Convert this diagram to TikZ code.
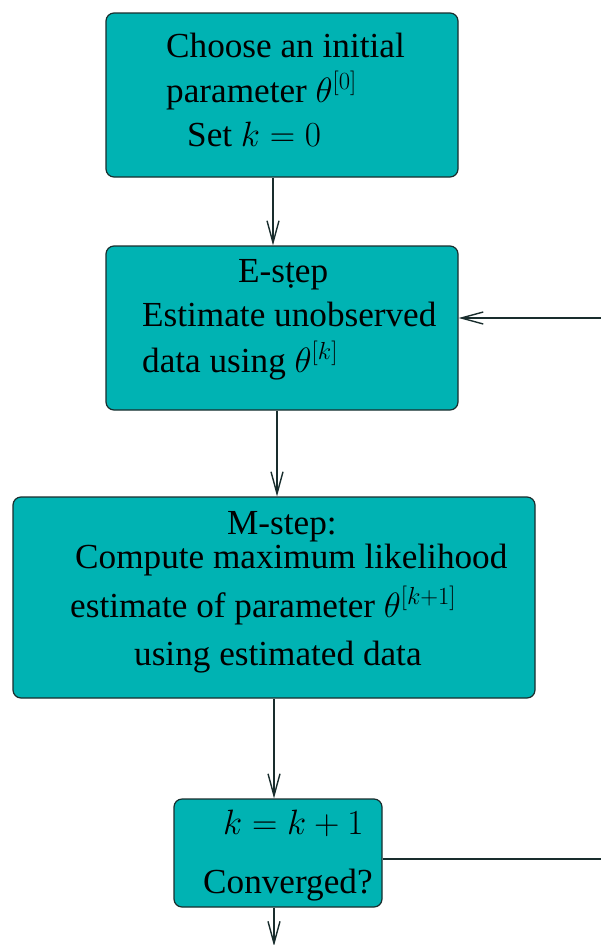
\documentclass[tikz,border=0pt]{standalone}
\usepackage{fix-cm}
\usepackage[no-math]{fontspec}
\setmainfont{Liberation Serif}
\newfontfamily\timesfam{Liberation Serif}
\usetikzlibrary{arrows.meta}
\definecolor{boxfill}{RGB}{0,179,179}
\definecolor{edge}{RGB}{25,45,45}
\tikzset{
  stepbox/.style={draw=edge, line width=1.2pt, fill=boxfill, rounded corners=8pt, rectangle, inner sep=0pt},
  txt/.style={anchor=base west, inner sep=0pt, font=\timesfam\fontsize{35.2}{40}\selectfont},
  arr/.style={draw=edge, line width=1.4pt, -{Straight Barb[length=22pt,width=12pt,line width=1.4pt]}},
  ln/.style={draw=edge, line width=1.4pt}
}
\begin{document}
\begin{tikzpicture}[x=1pt,y=-1pt]
\useasboundingbox (0,0) rectangle (601,945);
\clip (0,0) rectangle (601,945);
% boxes
\node[stepbox, minimum width=352pt, minimum height=164pt] (b1) at (282,95) {};
\node[stepbox, minimum width=352pt, minimum height=164pt] (b2) at (282,328) {};
\node[stepbox, minimum width=522pt, minimum height=201pt] (b3) at (274,597.5) {};
\node[stepbox, minimum width=208pt, minimum height=108pt] (b4) at (278,853) {};
% texts box 1
\node[txt] (t11) at (166,57) {Choose an initial};
\node[txt] (t12) at (166,102) {parameter $\theta^{[0]}$};
\node[txt] (t13) at (187,146) {Set $k=0$};
% texts box 2
\node[txt] (t21) at (238,282) {E-s\d{t}ep};
\node[txt] (t22) at (142,326) {Estimate unobserved};
\node[txt] (t23) at (142,372) {data using $\theta^{[k]}$};
% texts box 3
\node[txt] (t31) at (227,534) {M-step:};
\node[txt] (t32) at (75,568) {Compute maximum likelihood};
\node[txt] (t33) at (70,617) {estimate of parameter $\theta^{[k+1]}$};
\node[txt] (t34) at (134,665) {using estimated data};
% texts box 4
\node[txt] (t41) at (223,834) {$k=k+1$};
\node[txt] (t42) at (203,893) {Converged?};
% free ends
\coordinate (out) at (274,946);
\coordinate (rb) at (605,859);
\coordinate (rt) at (605,318);
% connectors
\draw[arr] ([xshift=-9pt]b1.south) -- ([xshift=-9pt]b2.north);
\draw[arr] ([xshift=-5pt]b2.south) -- ([xshift=3pt]b3.north);
\draw[arr] (b3.south) -- ([xshift=-4pt]b4.north);
\draw[arr] ([xshift=-4pt]b4.south) -- (out);
\draw[ln] ([yshift=-6pt]b4.east) -- (rb);
\draw[arr] (rt) -- ([yshift=10pt]b2.east);
\end{tikzpicture}
\end{document}
